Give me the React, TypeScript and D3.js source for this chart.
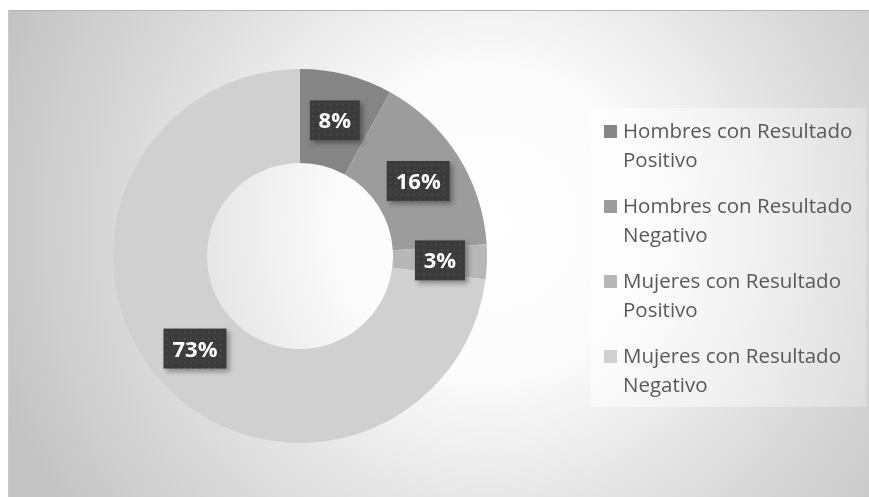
import React from "react";
import * as d3 from "d3";

const categories = [
  "Hombres con Resultado Positivo",
  "Hombres con Resultado Negativo",
  "Mujeres con Resultado Positivo",
  "Mujeres con Resultado Negativo",
];
const legendLines = [
  ["Hombres con Resultado", "Positivo"],
  ["Hombres con Resultado", "Negativo"],
  ["Mujeres con Resultado", "Positivo"],
  ["Mujeres con Resultado", "Negativo"],
];
const values = [8, 16, 3, 73];
const colors = ["#858585", "#9c9c9c", "#b7b7b7", "#d0d0d0"];

const W = 861;
const H = 489;

export default function App() {
  const cx = 292;
  const cy = 248;
  const outerR = 187;
  const innerR = 93;
  const pie = d3
    .pie<number>()
    .sort(null)
    .startAngle(0)
    .endAngle(2 * Math.PI)
    .value((d) => d);
  const arcs = pie(values);
  const arc = d3.arc<d3.PieArcDatum<number>>().innerRadius(innerR).outerRadius(outerR);
  const labelArc = d3
    .arc<d3.PieArcDatum<number>>()
    .innerRadius((innerR + outerR) / 2)
    .outerRadius((innerR + outerR) / 2);
  const total = d3.sum(values);
  const fmt = (v: number) => `${Math.round((v / total) * 100)}%`;

  const legX = 583;
  const legY = 100;
  const legW = 275;
  const legH = 299;
  const entryStep = 75;
  const firstBase = 130;
  const lineH = 29;

  return (
    <svg
      width={W}
      height={H}
      style={{ display: "block", position: "fixed", left: 8, top: 8 }}
    >
      <defs>
        <radialGradient id="bg" gradientUnits="userSpaceOnUse" cx={480} cy={215} r={520}>
          <stop offset="0" stopColor="#ffffff" />
          <stop offset="0.3" stopColor="#fbfbfb" />
          <stop offset="0.65" stopColor="#dddddd" />
          <stop offset="1" stopColor="#c3c3c3" />
        </radialGradient>
        <linearGradient id="legbg" x1="0" y1="0" x2="1" y2="0">
          <stop offset="0" stopColor="#ffffff" stopOpacity="0.55" />
          <stop offset="1" stopColor="#ffffff" stopOpacity="0.25" />
        </linearGradient>
        <pattern id="dots" width="6" height="6" patternUnits="userSpaceOnUse">
          <rect width="6" height="6" fill="#3b3b3b" />
          <circle cx="2" cy="2" r="1" fill="#4f4f4f" />
        </pattern>
        <filter id="shadow" x="-30%" y="-30%" width="170%" height="170%">
          <feDropShadow dx="3" dy="3" stdDeviation="2.5" floodColor="#000" floodOpacity="0.35" />
        </filter>
      </defs>
      <rect x={0} y={2} width={W} height={H} fill="url(#bg)" />
      <line x1={0} x2={W} y1={2.5} y2={2.5} stroke="#b5b5b5" strokeWidth={1} />
      <line x1={0.5} x2={0.5} y1={2} y2={H} stroke="#c9c9c9" strokeWidth={1} />

      <g transform={`translate(${cx},${cy})`}>
        {arcs.map((a, i) => (
          <path key={categories[i]} d={arc(a) || ""} fill={colors[i]} />
        ))}
        {arcs.map((a, i) => {
          const [lx, ly] = labelArc.centroid(a);
          const txt = fmt(a.data);
          const bw = 24 + txt.length * 13;
          const bh = 40;
          return (
            <g key={"l" + i} transform={`translate(${lx},${ly})`}>
              <rect x={-bw / 2} y={-bh / 2} width={bw} height={bh} fill="url(#dots)" filter="url(#shadow)" />
              <text
                x={0}
                y={8}
                textAnchor="middle"
                fill="#ffffff"
                fontFamily="'Open Sans', sans-serif"
                fontWeight={700}
                fontSize={22}
              >
                {txt}
              </text>
            </g>
          );
        })}
      </g>

      <rect x={legX} y={legY} width={legW} height={legH} fill="url(#legbg)" />
      {legendLines.map((lines, i) => {
        const base = firstBase + i * entryStep;
        return (
          <g key={"leg" + i}>
            <rect x={596} y={base - 13} width={13} height={13} fill={colors[i]} />
            {lines.map((ln, j) => (
              <text
                key={j}
                x={615}
                y={base + j * lineH}
                fill="#595959"
                fontFamily="'Open Sans', sans-serif"
                fontSize={20.5}
              >
                {ln}
              </text>
            ))}
          </g>
        );
      })}
    </svg>
  );
}
